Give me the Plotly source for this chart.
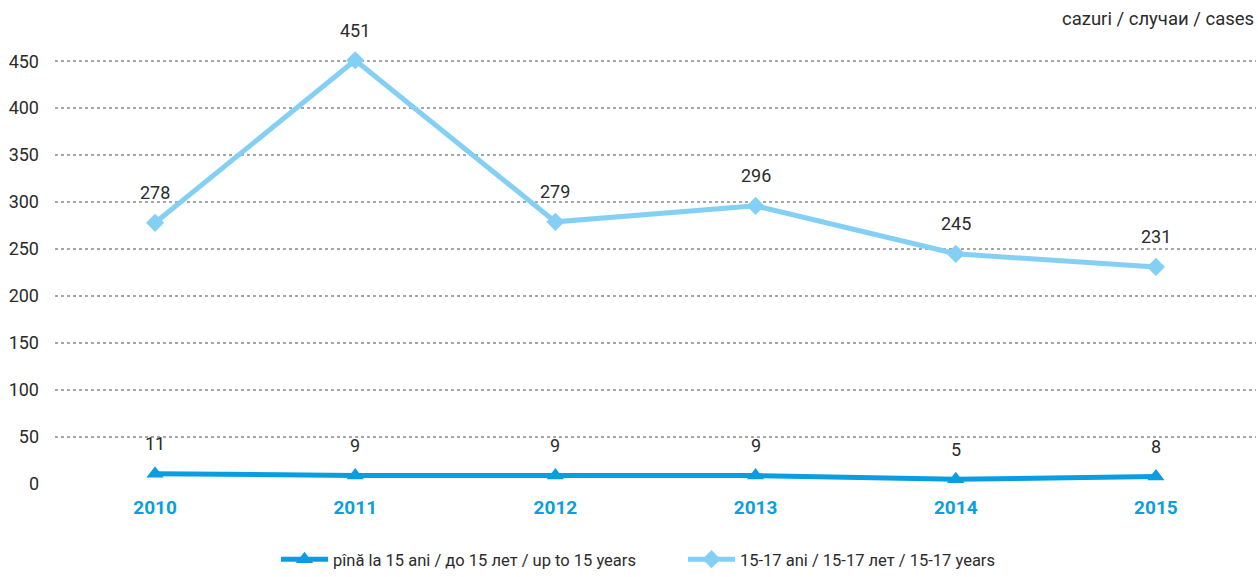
import plotly.graph_objects as go

years = ["2010", "2011", "2012", "2013", "2014", "2015"]
under15 = [11, 9, 9, 9, 5, 8]
age15_17 = [278, 451, 279, 296, 245, 231]
name_under15 = "pînă la 15 ani / до 15 лет / up to 15 years"
name_15_17 = "15-17 ani / 15-17 лет / 15-17 years"
unit_label = "cazuri / случаи / cases"
y_ticks = [0, 50, 100, 150, 200, 250, 300, 350, 400, 450]

dark = "#0a9ee0"
light = "#84d0f4"
font_fam = "Roboto, sans-serif"
txt = "#2b2b2b"

fig = go.Figure()
fig.add_trace(go.Scatter(
    x=years, y=under15, name=name_under15, mode="lines+markers",
    line=dict(color=dark, width=5),
    marker=dict(symbol="triangle-up", size=15, color=dark),
    cliponaxis=False,
))
fig.add_trace(go.Scatter(
    x=years, y=age15_17, name=name_15_17, mode="lines+markers",
    line=dict(color=light, width=5),
    marker=dict(symbol="diamond", size=14, color=light),
    cliponaxis=False,
))

annos = []
for i, yv in enumerate(age15_17):
    annos.append(dict(x=i, y=yv, text=str(yv), showarrow=False, yshift=30,
                      font=dict(size=18, color=txt, family=font_fam)))
for i, yv in enumerate(under15):
    annos.append(dict(x=i, y=yv, text=str(yv), showarrow=False, yshift=30,
                      font=dict(size=18, color=txt, family=font_fam)))
annos.append(dict(xref="paper", yref="paper", x=1.0, xanchor="right", y=1.0,
                  yshift=1, yanchor="bottom", text=unit_label, showarrow=False,
                  font=dict(size=18.5, color=txt, family=font_fam)))

fig.update_layout(
    width=1258, height=577,
    margin=dict(l=55, r=2, t=33, b=93),
    paper_bgcolor="white", plot_bgcolor="white",
    font=dict(family=font_fam, color=txt, size=17),
    annotations=annos,
    showlegend=True,
    legend=dict(orientation="h", x=0.184, xanchor="left", yref="container",
                y=-0.012, yanchor="bottom",
                font=dict(size=16.5, color=txt), itemwidth=47,
                entrywidth=345),
    xaxis=dict(type="category", range=[-0.5, 5.5], showgrid=False, zeroline=False,
               showline=False, ticks="", automargin=False, ticklabelstandoff=10,
               tickfont=dict(size=19, color=dark, family=font_fam, weight="bold")),
    yaxis=dict(range=[0, 480], tickvals=y_ticks, showgrid=True, gridcolor="#a6a6a6",
               griddash="dot", gridwidth=1.5, zeroline=False, showline=False,
               ticks="", ticklabelstandoff=15, automargin=False,
               tickfont=dict(size=18, color=txt)),
)

fig.write_html("out.html", config={"displayModeBar": False},
               post_script="document.body.style.margin='0';")
